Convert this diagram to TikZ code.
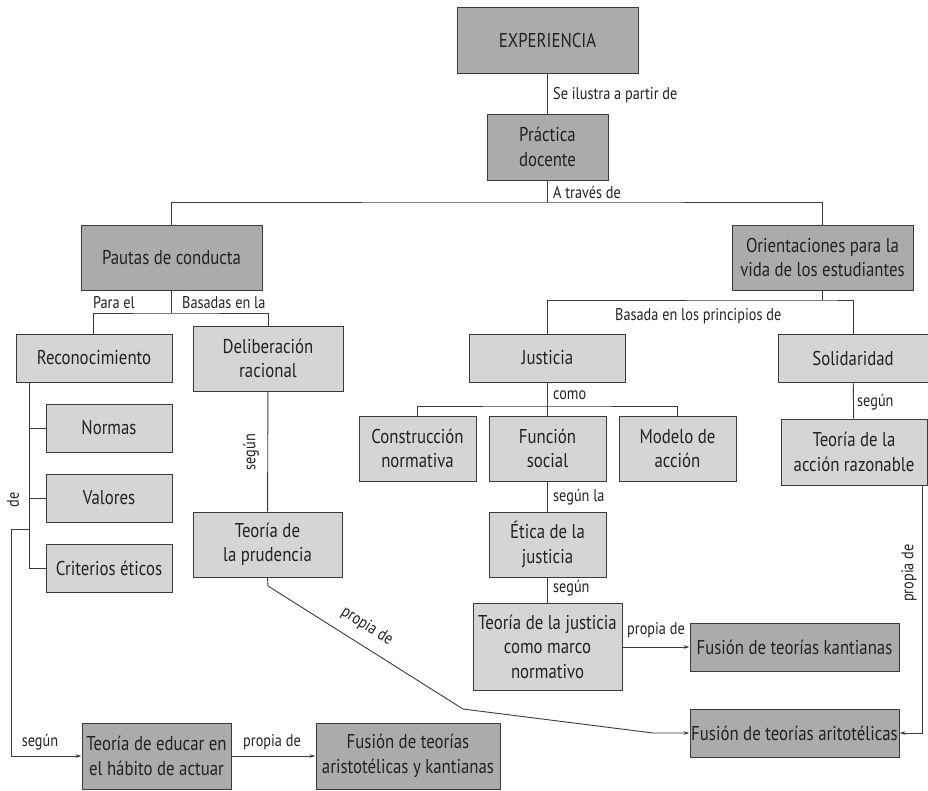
\documentclass[tikz,border=0pt]{standalone}
\usepackage{fontspec}
\setmainfont[FakeStretch=0.84]{PT Sans}
\usetikzlibrary{arrows.meta}
\definecolor{boxdark}{HTML}{ABABAB}
\definecolor{boxlight}{HTML}{D5D5D5}
\definecolor{ink}{HTML}{222222}
\definecolor{edge}{HTML}{3A3A3A}
\tikzset{
  x=1pt, y=-1pt,
  base/.style={draw=edge, line width=1pt, inner sep=0pt, align=center, text=ink,
    font=\fontsize{20}{24.5}\selectfont},
  dk/.style={base, fill=boxdark},
  lt/.style={base, fill=boxlight},
  wire/.style={draw=edge, line width=0.9pt},
  arr/.style={wire, -{Stealth[length=6pt,width=3.5pt]}},
  lab/.style={text=ink, inner sep=0pt, font=\fontsize{17}{20}\selectfont},
}
\begin{document}
\begin{tikzpicture}
\useasboundingbox (0,0) rectangle (928,790);
% boxes
\node[dk, minimum width=181, minimum height=66] (exp) at (547.5,40) {EXPERIENCIA};
\node[dk, minimum width=121, minimum height=66] (prac) at (547.5,147) {Práctica\\docente};
\node[dk, minimum width=181, minimum height=65] (pautas) at (171.5,257.5) {Pautas de conducta};
\node[dk, minimum width=181, minimum height=65] (orient) at (822.5,257.5) {Orientaciones para la\\vida de los estudiantes};
\node[lt, minimum width=156, minimum height=48] (recon) at (94,358) {Reconocimiento};
\node[lt, minimum width=150, minimum height=65] (delib) at (268,358.5) {Deliberación\\racional};
\node[lt, minimum width=126, minimum height=48] (normas) at (109,428) {Normas};
\node[lt, minimum width=126, minimum height=48] (valores) at (109,498) {Valores};
\node[lt, minimum width=126, minimum height=48] (crit) at (109,568) {Criterios éticos};
\node[lt, minimum width=149, minimum height=65] (prud) at (267.5,544.5) {Teoría de\\la prudencia};
\node[lt, minimum width=156, minimum height=48] (just) at (547.5,358) {Justicia};
\node[lt, minimum width=150, minimum height=48] (solid) at (853,358) {Solidaridad};
\node[lt, minimum width=117, minimum height=65] (constr) at (417.5,448.5) {Construcción\\normativa};
\node[lt, minimum width=117, minimum height=65] (func) at (547.5,448.5) {Función\\social};
\node[lt, minimum width=117, minimum height=65] (modelo) at (677.5,448.5) {Modelo de\\acción};
\node[lt, minimum width=146, minimum height=66] (accion) at (854,452) {Teoría de la\\acción razonable};
\node[lt, minimum width=117, minimum height=65] (etica) at (547.5,544.5) {Ética de la\\justicia};
\node[lt, minimum width=149, minimum height=87] (tjust) at (547.5,646.5) {Teoría de la justicia\\como marco\\normativo};
\node[dk, minimum width=209, minimum height=48] (fkant) at (794.5,647) {Fusión de teorías kantianas};
\node[dk, minimum width=209, minimum height=48] (farist) at (794.5,733) {Fusión de teorías aritotélicas};
\node[dk, minimum width=149, minimum height=66] (educar) at (156.5,756) {Teoría de educar en\\el hábito de actuar};
\node[dk, minimum width=184, minimum height=66] (fak) at (408,756) {Fusión de teorías\\aristotélicas y kantianas};

% junction and bend points
\coordinate (j1) at (547.5,202);
\coordinate (j2) at (171.5,313);
\coordinate (j3) at (822.5,300);
\coordinate (j4) at (547.5,406);
\coordinate (rtop) at (29,382);
\coordinate (rbot) at (29,568);
\coordinate (rtap) at (29,529);
\coordinate (rturn) at (11,529);
\coordinate (rdown) at (11,756);
\coordinate (pk1) at (268,586);
\coordinate (pk2) at (463,709);
\coordinate (pk3) at (653,733);
\coordinate (ak1) at (922,485);
\coordinate (ak2) at (922,733);

% connectors
\draw[wire] (exp) -- (prac);
\draw[wire] (prac) -- (j1);
\draw[wire] (pautas.north) |- (j1) -| (orient.north);
\draw[wire] (pautas) -- (j2);
\draw[wire] (recon.north -| 93,0) |- (j2) -| (delib.north);
\draw[wire] (rtop) -- (rbot) -- (crit.west);
\draw[wire] (normas.west) -- (normas.west -| rtop);
\draw[wire] (valores.west) -- (valores.west -| rtop);
\draw[arr] (rtap) -- (rturn) -- (rdown) -- (educar.west);
\draw[arr] (educar) -- (fak);
\draw[wire] (delib) -- (prud);
\draw[arr] (prud.south) -- (pk1) -- (pk2) -- (pk3) -- (farist.west);
\draw[wire] (orient) -- (j3);
\draw[wire] (just.north) |- (j3) -| (solid.north);
\draw[wire] (just) -- (j4);
\draw[wire] (constr.north) |- (j4) -| (modelo.north);
\draw[wire] (j4) -- (func);
\draw[wire] (func) -- (etica);
\draw[wire] (etica) -- (tjust);
\draw[arr] (tjust.east |- fkant.west) -- (fkant.west);
\draw[wire] (solid) -- (accion);
\draw[arr] (ak1) -- (ak2) -- (farist.east);

% connector labels
\node[lab, anchor=west] (l1) at (553,95) {Se ilustra a partir de};
\node[lab, anchor=west] (l2) at (553,192) {A través de};
\node[lab] (l3) at (114,303) {Para el};
\node[lab, anchor=west] (l4) at (182,303) {Basadas en la};
\node[lab, rotate=90] (l5) at (13,500) {de};
\node[lab] (l6) at (40,742) {según};
\node[lab] (l7) at (272,742) {propia de};
\node[lab, rotate=90] (l8) at (251,452) {según};
\node[lab, rotate=-32] (l9) at (367,626) {propia de};
\node[lab, anchor=west] (l10) at (615,316) {Basada en los principios de};
\node[lab, anchor=west] (l11) at (553,395) {como};
\node[lab, anchor=west] (l12) at (553,497) {según la};
\node[lab, anchor=west] (l13) at (553,588) {según};
\node[lab] (l14) at (656,630) {propia de};
\node[lab, anchor=west] (l15) at (857,402) {según};
\node[lab, rotate=90] (l16) at (909,573) {propia de};
\end{tikzpicture}
\end{document}
